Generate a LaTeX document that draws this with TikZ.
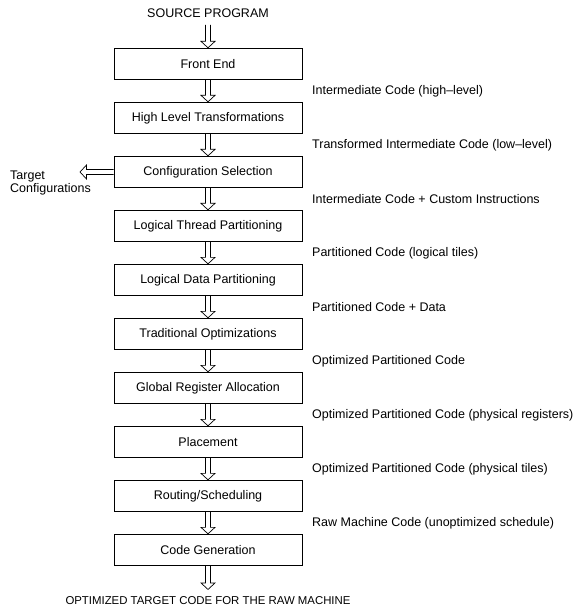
\documentclass[tikz,border=0pt]{standalone}
\usepackage{fontspec}
\setmainfont{Liberation Sans}
\usetikzlibrary{calc}
\begin{document}
\begin{tikzpicture}[x=1pt,y=-1pt,
  txt/.style={font=\fontsize{12.5}{12.5}\selectfont},
  stage/.style={txt, draw, line width=0.8pt, minimum width=188pt, minimum height=31.5pt, inner sep=0pt},
  lbl/.style={txt, anchor=west, inner sep=0pt},
  endtxt/.style={txt, inner sep=0pt, outer ysep=7.5pt},
  hollow/.style={line width=0.7pt, line join=miter, to path={
    ($(\tikztostart)!2.5pt!90:(\tikztotarget)$)
    -- ($(\tikztotarget)!6.5pt!(\tikztostart)!2.5pt!90:(\tikztotarget)$)
    -- ($(\tikztotarget)!6.5pt!(\tikztostart)!7pt!90:(\tikztotarget)$)
    -- (\tikztotarget)
    -- ($(\tikztotarget)!6.5pt!(\tikztostart)!7pt!-90:(\tikztotarget)$)
    -- ($(\tikztotarget)!6.5pt!(\tikztostart)!2.5pt!-90:(\tikztotarget)$)
    -- ($(\tikztostart)!2.5pt!-90:(\tikztotarget)$)
  }}]
\useasboundingbox (0,0) rectangle (574,609);

\node[endtxt] (src) at (208,13) {SOURCE PROGRAM};

\foreach \t [count=\i] in {Front End, High Level Transformations, Configuration Selection,
  Logical Thread Partitioning, Logical Data Partitioning, Traditional Optimizations,
  Global Register Allocation, Placement, Routing/Scheduling, Code Generation}
  \node[stage] (b\i) at (208,{64+54*(\i-1)}) {\t};

\node[endtxt, font=\fontsize{11.4}{12}\selectfont] (out) at (208,601) {OPTIMIZED TARGET CODE FOR THE RAW MACHINE};

\draw[hollow] (src.south) to (b1.north);
\foreach \i [evaluate=\i as \j using int(\i+1)] in {1,...,9}
  \draw[hollow] (b\i.south) to (b\j.north);
\draw[hollow] (b10.south) to (out.north);

\foreach \t [count=\i] in {Intermediate Code (high–level),
  Transformed Intermediate Code (low–level),
  Intermediate Code + Custom Instructions,
  Partitioned Code (logical tiles),
  Partitioned Code + Data,
  Optimized Partitioned Code,
  Optimized Partitioned Code (physical registers),
  Optimized Partitioned Code (physical tiles),
  Raw Machine Code (unoptimized schedule)}
  \node[lbl] (l\i) at (312,{91+54*(\i-1)}) {\t};

\node[txt, anchor=west, inner sep=0pt, align=left] (tc) at (10,183) {Target\\Configurations};
\coordinate (tcend) at (80,172);
\draw[hollow] (b3.west) to (tcend);
\end{tikzpicture}
\end{document}
